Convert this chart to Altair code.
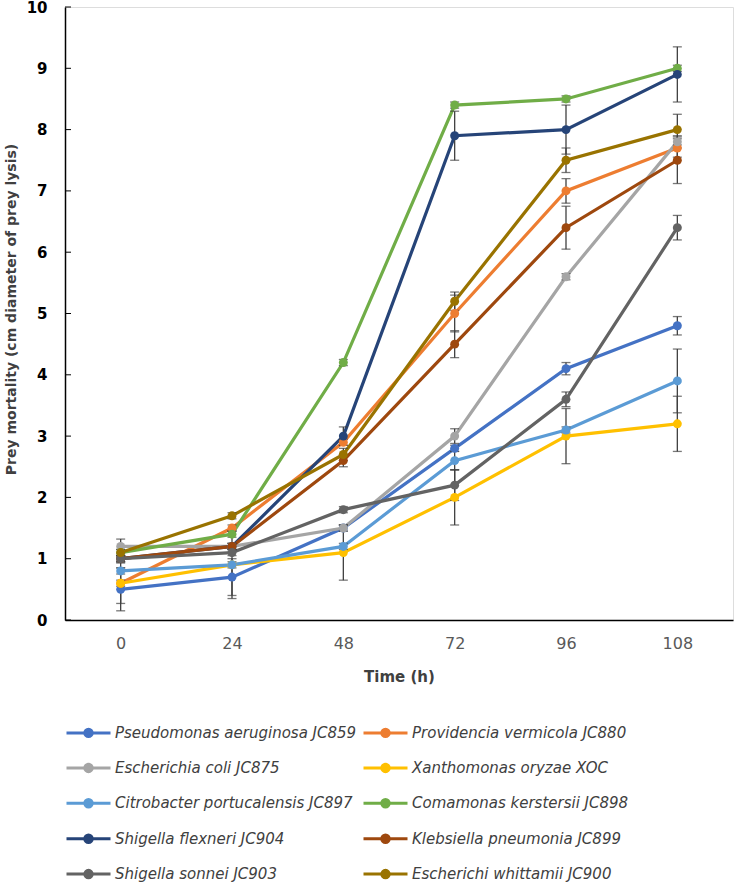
import altair as alt
import pandas as pd

times = [0, 24, 48, 72, 96, 108]
series = [
    "Pseudomonas aeruginosa JC859",
    "Providencia vermicola JC880",
    "Escherichia coli JC875",
    "Xanthomonas oryzae XOC",
    "Citrobacter portucalensis JC897",
    "Comamonas kerstersii JC898",
    "Shigella flexneri JC904",
    "Klebsiella pneumonia JC899",
    "Shigella sonnei JC903",
    "Escherichi whittamii JC900",
]
colors = ["#4472C4", "#ED7D31", "#A5A5A5", "#FFC000", "#5B9BD5",
          "#70AD47", "#264478", "#9E480E", "#636363", "#997300"]

pseudomonas = [0.5, 0.7, 1.5, 2.8, 4.1, 4.8]
providencia = [0.6, 1.5, 2.9, 5.0, 7.0, 7.7]
ecoli = [1.2, 1.2, 1.5, 3.0, 5.6, 7.8]
xanthomonas = [0.6, 0.9, 1.1, 2.0, 3.0, 3.2]
citrobacter = [0.8, 0.9, 1.2, 2.6, 3.1, 3.9]
comamonas = [1.1, 1.4, 4.2, 8.4, 8.5, 9.0]
sflexneri = [1.0, 1.2, 3.0, 7.9, 8.0, 8.9]
klebsiella = [1.0, 1.2, 2.6, 4.5, 6.4, 7.5]
ssonnei = [1.0, 1.1, 1.8, 2.2, 3.6, 6.4]
whittamii = [1.1, 1.7, 2.7, 5.2, 7.5, 8.0]

err_pseudomonas = [0.35, 0.3, 0.05, 0.05, 0.1, 0.15]
err_providencia = [0.05, 0.05, 0.05, 0.3, 0.2, 0.15]
err_ecoli = [0.12, 0.05, 0.05, 0.12, 0.05, 0.1]
err_xanthomonas = [0.33, 0.55, 0.45, 0.45, 0.45, 0.45]
err_citrobacter = [0.05, 0.05, 0.05, 0.15, 0.05, 0.52]
err_comamonas = [0.05, 0.05, 0.05, 0.05, 0.05, 0.05]
err_sflexneri = [0.05, 0.05, 0.15, 0.4, 0.4, 0.45]
err_klebsiella = [0.05, 0.05, 0.1, 0.22, 0.35, 0.38]
err_ssonnei = [0.05, 0.05, 0.05, 0.25, 0.12, 0.2]
err_whittamii = [0.05, 0.05, 0.1, 0.15, 0.2, 0.25]

values = [pseudomonas, providencia, ecoli, xanthomonas, citrobacter,
          comamonas, sflexneri, klebsiella, ssonnei, whittamii]
errors = [err_pseudomonas, err_providencia, err_ecoli, err_xanthomonas,
          err_citrobacter, err_comamonas, err_sflexneri, err_klebsiella,
          err_ssonnei, err_whittamii]

y_ticks = [0, 1, 2, 3, 4, 5, 6, 7, 8, 9, 10]

rows = []
for si, (name, vals, errs) in enumerate(zip(series, values, errors)):
    for t, v, e in zip(times, vals, errs):
        rows.append({"series": name, "order": si, "time": t, "value": v,
                     "lo": v - e, "hi": v + e})
df = pd.DataFrame(rows)
tick_df = pd.DataFrame({"v": y_ticks})

# legend is filled column by column; reorder so rows read pairwise like the original
legend_order = series[0::2] + series[1::2]
legend_colors = colors[0::2] + colors[1::2]
color_scale = alt.Scale(domain=legend_order, range=legend_colors)

x_enc = alt.X("time:O", scale=alt.Scale(type="point", padding=0.5),
              title="Time (h)",
              axis=alt.Axis(labelAngle=0, ticks=False, domainColor="black",
                            domainWidth=1.5, labelFont="DejaVu Sans",
                            labelFontSize=16, labelColor="#595959",
                            labelPadding=15, titleFont="DejaVu Sans",
                            titleFontWeight="bold", titleFontSize=15,
                            titleColor="#404040", titlePadding=18))
y_scale = alt.Scale(domain=[0, 10], nice=False)
color_enc = alt.Color("series:N", scale=color_scale,
                      legend=alt.Legend(
                          title=None, orient="none", legendX=0, legendY=702,
                          columns=2, columnPadding=0, rowPadding=1.4,
                          symbolType="M-1,0L1,0M-0.17,0A0.17,0.17 0 1,0 0.17,0A0.17,0.17 0 1,0 -0.17,0",
                          symbolSize=1936, symbolStrokeWidth=3,
                          labelFont="DejaVu Sans", labelFontStyle="italic",
                          labelFontSize=15, labelColor="#404040",
                          labelLimit=0, labelOffset=3))

base = alt.Chart(df)

lines = base.mark_line(strokeWidth=3.2).encode(
    x=x_enc,
    y=alt.Y("value:Q", scale=y_scale,
            title="Prey mortality (cm diameter of prey lysis)",
            axis=alt.Axis(values=y_ticks, format="d", ticks=False, grid=False,
                          domainColor="black", domainWidth=1.5,
                          labelFont="DejaVu Sans", labelFontWeight="bold",
                          labelFontSize=15, labelColor="black",
                          labelPadding=18, titleFont="DejaVu Sans",
                          titleFontWeight="bold", titleFontSize=14,
                          titleColor="#404040", titleX=-47, titleY=302)),
    color=color_enc,
    order=alt.Order("order:Q"),
)

err_rules = base.mark_rule(color="#404040", strokeWidth=1.3).encode(
    x="time:O", y="lo:Q", y2="hi:Q")
cap_lo = base.mark_tick(color="#404040", thickness=1.3, size=9).encode(
    x="time:O", y="lo:Q")
cap_hi = base.mark_tick(color="#404040", thickness=1.3, size=9).encode(
    x="time:O", y="hi:Q")

points = base.mark_point(filled=True, size=80, opacity=1).encode(
    x="time:O", y="value:Q",
    color=alt.Color("series:N", scale=color_scale, legend=None),
)

inner_ticks = alt.Chart(tick_df).mark_rule(color="black", strokeWidth=1).encode(
    x=alt.value(0), x2=alt.value(6), y="v:Q")

chart = alt.layer(lines, err_rules, cap_lo, cap_hi, points, inner_ticks).properties(
    width=668, height=613,
    autosize=alt.AutoSizeParams(type="none"),
    padding={"left": 65, "top": 7, "right": 2, "bottom": 265},
).configure_view(stroke="black", strokeWidth=1.5).configure(background="white")

chart.save("out.html", embed_options={"renderer": "svg", "actions": False})
